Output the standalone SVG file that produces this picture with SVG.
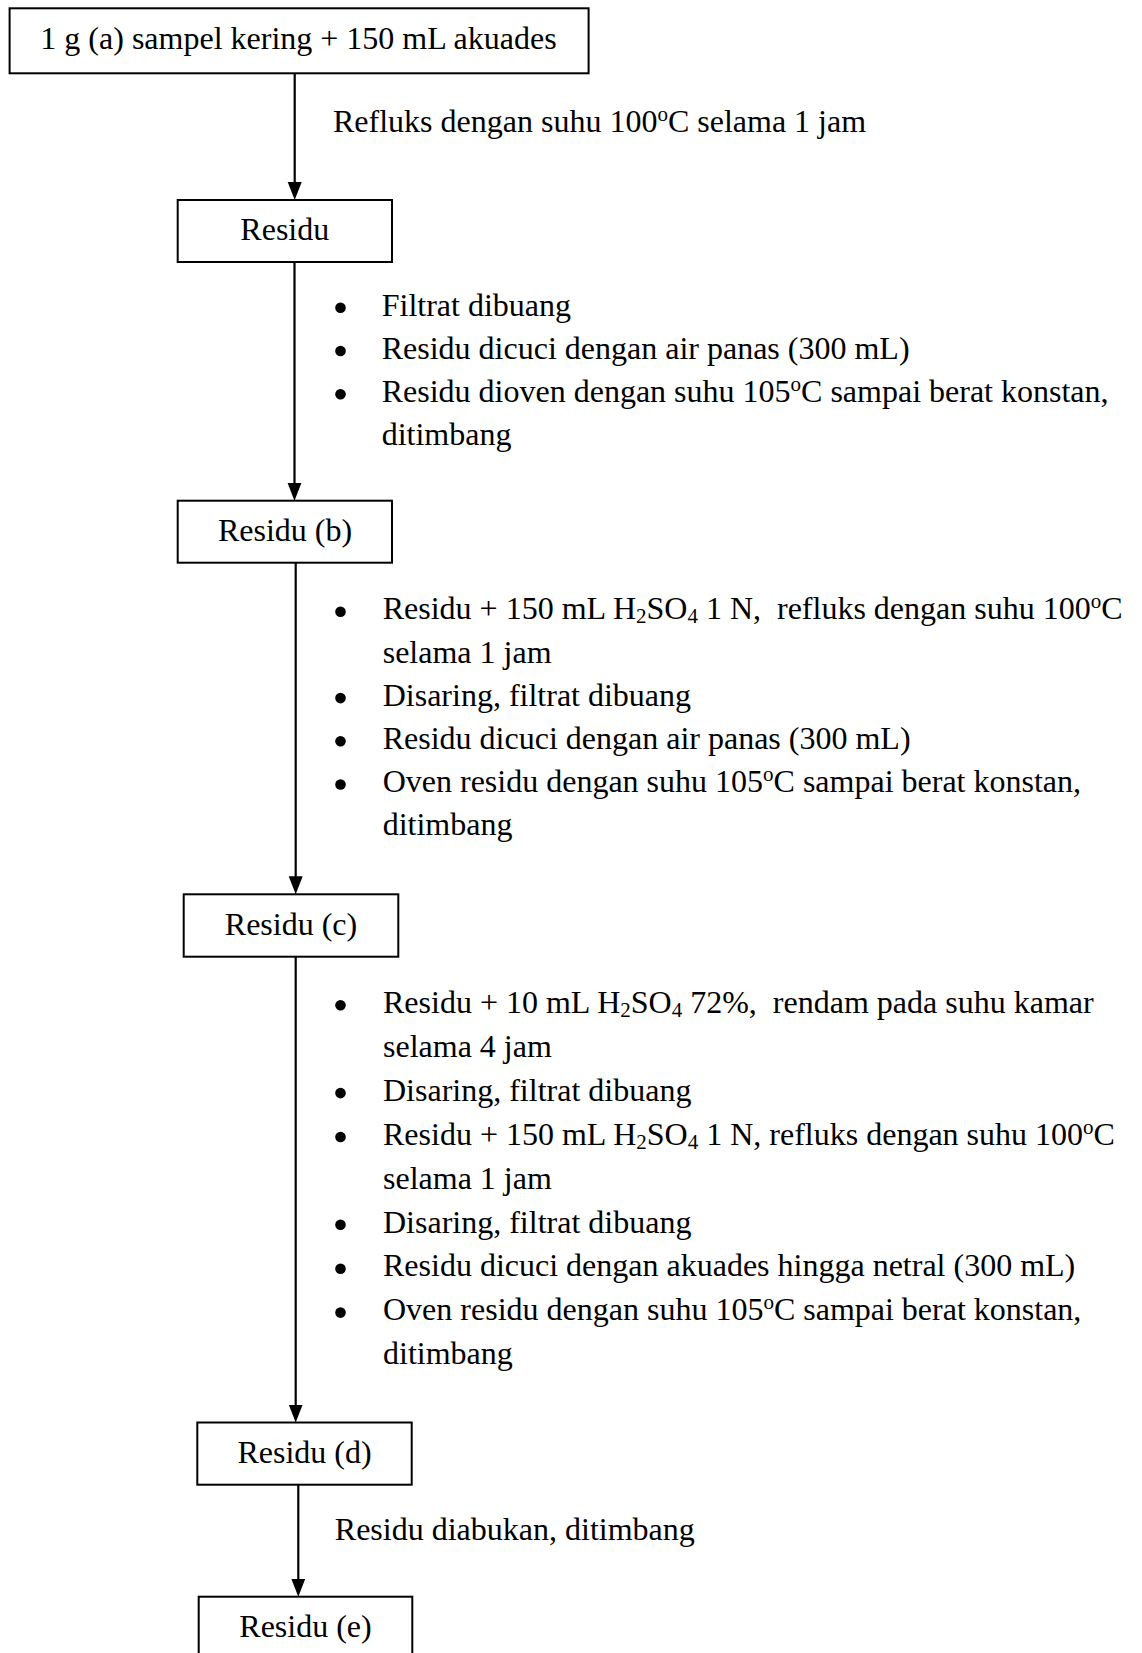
<svg xmlns="http://www.w3.org/2000/svg" width="1142" height="1653" viewBox="0 0 1142 1653">
<style>
text{font-family:"Liberation Serif","Times New Roman",serif;font-size:32px;fill:#000}
.c{text-anchor:middle}
.box{fill:#fff;stroke:#000;stroke-width:2}
.ln{stroke:#000;stroke-width:2.2;fill:none;marker-end:url(#ah)}
.b{fill:#000}
.sub{font-size:21px}
</style>
<defs>
<marker id="ah" markerUnits="userSpaceOnUse" markerWidth="19" markerHeight="15" refX="10" refY="7" orient="auto">
<path d="M0,0 L18,7 L0,14 z" fill="#000"/>
</marker>
</defs>
<rect width="1142" height="1653" fill="#fff"/>
<g id="connectors">
<line class="ln" x1="294.7" y1="73.3" x2="294.7" y2="192"/>
<line class="ln" x1="294.5" y1="262" x2="294.5" y2="492.7"/>
<line class="ln" x1="295.7" y1="562.5" x2="295.7" y2="886.3"/>
<line class="ln" x1="295.7" y1="956.7" x2="295.7" y2="1414.5"/>
<line class="ln" x1="298.3" y1="1484.7" x2="298.3" y2="1588.7"/>
</g>
<g id="node-a">
<rect class="box" x="9.6" y="8.3" width="579" height="65"/>
<text class="c" x="298.5" y="49.3">1 g (a) sampel kering + 150 mL akuades</text>
</g>
<g id="label-1">
<text x="333" y="131.7">Refluks dengan suhu 100<tspan class="sub" dy="-11">o</tspan><tspan dy="11">C selama 1 jam</tspan></text>
</g>
<g id="node-residu">
<rect class="box" x="177.7" y="200" width="214.3" height="62"/>
<text class="c" x="284.8" y="240">Residu</text>
</g>
<g id="steps-1">
<circle class="b" cx="340.5" cy="307.8" r="5.3"/>
<text x="381.7" y="315.5">Filtrat dibuang</text>
<circle class="b" cx="340.5" cy="351" r="5.3"/>
<text x="381.7" y="358.7">Residu dicuci dengan air panas (300 mL)</text>
<circle class="b" cx="340.5" cy="394.2" r="5.3"/>
<text x="381.7" y="401.9">Residu dioven dengan suhu 105<tspan class="sub" dy="-11">o</tspan><tspan dy="11">C sampai berat konstan,</tspan></text>
<text x="381.7" y="445.1">ditimbang</text>
</g>
<g id="node-b">
<rect class="box" x="177.7" y="500.7" width="214.3" height="62"/>
<text class="c" x="285" y="541">Residu (b)</text>
</g>
<g id="steps-2">
<circle class="b" cx="340.5" cy="611.7" r="5.3"/>
<text x="382.7" y="619.4" xml:space="preserve">Residu + 150 mL H<tspan class="sub" dy="4">2</tspan><tspan dy="-4">SO</tspan><tspan class="sub" dy="4">4</tspan><tspan dy="-4"> 1 N,  refluks dengan suhu 100</tspan><tspan class="sub" dy="-11">o</tspan><tspan dy="11">C</tspan></text>
<text x="382.7" y="662.6">selama 1 jam</text>
<circle class="b" cx="340.5" cy="698.1" r="5.3"/>
<text x="382.7" y="705.8">Disaring, filtrat dibuang</text>
<circle class="b" cx="340.5" cy="741.3" r="5.3"/>
<text x="382.7" y="749">Residu dicuci dengan air panas (300 mL)</text>
<circle class="b" cx="340.5" cy="784.5" r="5.3"/>
<text x="382.7" y="792.2">Oven residu dengan suhu 105<tspan class="sub" dy="-11">o</tspan><tspan dy="11">C sampai berat konstan,</tspan></text>
<text x="382.7" y="835.4">ditimbang</text>
</g>
<g id="node-c">
<rect class="box" x="183.7" y="894.3" width="214.6" height="62.4"/>
<text class="c" x="291" y="935">Residu (c)</text>
</g>
<g id="steps-3">
<circle class="b" cx="340.5" cy="1005.3" r="5.3"/>
<text x="383" y="1013" xml:space="preserve">Residu + 10 mL H<tspan class="sub" dy="4">2</tspan><tspan dy="-4">SO</tspan><tspan class="sub" dy="4">4</tspan><tspan dy="-4"> 72%,  rendam pada suhu kamar</tspan></text>
<text x="383" y="1056.9">selama 4 jam</text>
<circle class="b" cx="340.5" cy="1093.1" r="5.3"/>
<text x="383" y="1100.8">Disaring, filtrat dibuang</text>
<circle class="b" cx="340.5" cy="1137" r="5.3"/>
<text x="383" y="1144.7" xml:space="preserve">Residu + 150 mL H<tspan class="sub" dy="4">2</tspan><tspan dy="-4">SO</tspan><tspan class="sub" dy="4">4</tspan><tspan dy="-4"> 1 N, refluks dengan suhu 100</tspan><tspan class="sub" dy="-11">o</tspan><tspan dy="11">C</tspan></text>
<text x="383" y="1188.6">selama 1 jam</text>
<circle class="b" cx="340.5" cy="1224.8" r="5.3"/>
<text x="383" y="1232.5">Disaring, filtrat dibuang</text>
<circle class="b" cx="340.5" cy="1268.7" r="5.3"/>
<text x="383" y="1276.4">Residu dicuci dengan akuades hingga netral (300 mL)</text>
<circle class="b" cx="340.5" cy="1312.6" r="5.3"/>
<text x="383" y="1320.3">Oven residu dengan suhu 105<tspan class="sub" dy="-11">o</tspan><tspan dy="11">C sampai berat konstan,</tspan></text>
<text x="383" y="1364.2">ditimbang</text>
</g>
<g id="node-d">
<rect class="box" x="197.3" y="1422.5" width="214.4" height="62.2"/>
<text class="c" x="304.5" y="1462.7">Residu (d)</text>
</g>
<g id="label-5">
<text x="334.8" y="1540">Residu diabukan, ditimbang</text>
</g>
<g id="node-e">
<rect class="box" x="198.7" y="1596.7" width="213.6" height="62"/>
<text class="c" x="305.5" y="1636.7">Residu (e)</text>
</g>
</svg>
